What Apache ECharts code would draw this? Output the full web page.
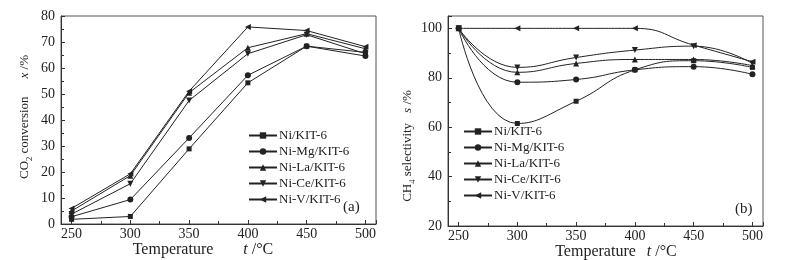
<!DOCTYPE html>
<html>
<head>
<meta charset="utf-8">
<script src="https://cdn.jsdelivr.net/npm/echarts@6/dist/echarts.min.js"></script>
<style>
  html, body { margin: 0; padding: 0; background: #fff; }
  #chart { width: 791px; height: 260px; }
</style>
</head>
<body>
<div id="chart"></div>
<script>
// temperatures (°C)
const temps = [250, 300, 350, 400, 450, 500];
const seriesNames = ['Ni/KIT-6', 'Ni-Mg/KIT-6', 'Ni-La/KIT-6', 'Ni-Ce/KIT-6', 'Ni-V/KIT-6'];

// (a) CO2 conversion, %
const convNi = [1.8, 2.9, 28.9, 54.3, 68.4, 66.0];
const convMg = [2.8, 9.4, 33.1, 57.2, 68.4, 64.6];
const convLa = [5.0, 18.6, 50.5, 67.8, 73.2, 67.4];
const convCe = [3.8, 15.5, 47.5, 65.5, 72.8, 65.5];
const convV = [6.0, 19.3, 51.1, 75.8, 74.4, 68.2];

// (b) CH4 selectivity, %
const selNi = [100, 61.5, 70.5, 83.2, 86.9, 84.2];
const selMg = [100, 78.2, 79.3, 83.2, 84.5, 81.4];
const selLa = [100, 82.2, 85.8, 87.4, 87.4, 84.9];
const selCe = [100, 84.2, 88.2, 91.2, 92.8, 85.8];
const selV = [100, 100, 100, 100, 93.2, 86.5];

const symbols = ['rect', 'circle', 'triangle', 'triangle', 'triangle'];
const rotations = [0, 0, 0, 180, 90];

const FONT = 'Liberation Serif';
const INK = '#222';

const pairs = vals => temps.map((t, i) => [t, vals[i]]);

const makeSeries = (name, idx, vals, axis, smooth) => ({
  name,
  type: 'line',
  xAxisIndex: axis,
  yAxisIndex: axis,
  data: pairs(vals),
  smooth,
  symbol: symbols[idx],
  symbolRotate: rotations[idx],
  symbolSize: idx === 0 ? 5 : 6,
  lineStyle: { color: INK, width: 1 },
  itemStyle: { color: INK },
  emphasis: { disabled: true },
  animation: false
});

const xAxisBase = (gridIndex, gapBeforeVar, pad) => ({
  type: 'value',
  gridIndex,
  min: 241,
  max: 509,
  minInterval: 50,
  maxInterval: 50,
  name: '{a|Temperature}{i|t}{a| /°C}',
  nameLocation: 'middle',
  nameGap: 18,
  nameMoveOverlap: false,
  nameTextStyle: {
    fontFamily: FONT,
    fontSize: 16,
    color: INK,
    padding: pad,
    rich: {
      a: { fontFamily: FONT, fontSize: 16, color: INK },
      i: { fontFamily: FONT, fontSize: 16, fontStyle: 'italic', color: INK, padding: [0, 0, 0, gapBeforeVar] }
    }
  },
  axisLine: { show: true, onZero: false, lineStyle: { color: '#333', width: 1 } },
  axisTick: { show: true, inside: true, length: 4, lineStyle: { color: '#333' } },
  minorTick: { show: true, splitNumber: 2, length: 3, lineStyle: { color: '#333' } },
  splitLine: { show: false },
  axisLabel: {
    fontFamily: FONT,
    fontSize: 14,
    color: INK,
    margin: 3,
    formatter: v => (v % 50 === 0 ? String(v) : '')
  }
});

const yAxisBase = (gridIndex, min, max, interval, nameText, gap, gapBeforeVar, pad, showFn) => ({
  type: 'value',
  gridIndex,
  min,
  max,
  interval,
  name: nameText,
  nameLocation: 'middle',
  nameGap: gap,
  nameMoveOverlap: false,
  nameRotate: 90,
  nameTextStyle: {
    fontFamily: FONT,
    fontSize: 13,
    color: INK,
    padding: pad,
    rich: {
      a: { fontFamily: FONT, fontSize: 13, color: INK, lineHeight: 18, verticalAlign: 'middle' },
      s: { fontFamily: FONT, fontSize: 8.5, color: INK, lineHeight: 8, verticalAlign: 'bottom' },
      i: { fontFamily: FONT, fontSize: 13, fontStyle: 'italic', color: INK, lineHeight: 18, verticalAlign: 'middle', padding: [0, 0, 0, gapBeforeVar] }
    }
  },
  axisLine: { show: true, lineStyle: { color: '#333', width: 1 } },
  axisTick: { show: true, inside: true, length: 4, lineStyle: { color: '#333' } },
  minorTick: { show: true, splitNumber: 2, length: 3, lineStyle: { color: '#333' } },
  splitLine: { show: false },
  axisLabel: {
    fontFamily: FONT,
    fontSize: 14,
    color: INK,
    margin: 6,
    formatter: showFn
  }
});

const legendBase = (left, top) => ({
  orient: 'vertical',
  left,
  top,
  padding: 0,
  data: seriesNames,
  itemWidth: 28,
  itemHeight: 8,
  itemGap: 3,
  selectedMode: false,
  textStyle: { fontFamily: FONT, fontSize: 13, fontWeight: 'normal', color: INK, lineHeight: 13, padding: [0, 0, 0, -3] }
});

const gridBase = (left, height) => ({
  left,
  top: 16,
  width: 315,
  height,
  outerBoundsMode: 'none',
  containLabel: false,
  show: true,
  borderColor: '#555',
  borderWidth: 1,
  backgroundColor: 'transparent'
});

const chart = echarts.init(document.getElementById('chart'), null, { renderer: 'canvas' });

chart.setOption({
  backgroundColor: '#fff',
  animation: false,
  grid: [gridBase(61, 208), gridBase(448, 210)],
  xAxis: [
    xAxisBase(0, 30, [0, 31, 0, 0]),
    xAxisBase(1, 11, [0, 0, 0, 21])
  ],
  yAxis: [
    yAxisBase(0, 0, 80, 10, '{a|CO}{s|2}{a| conversion}{i|x}{a| /%}', 27, 18, [0, 0, 0, 6],
      v => String(v)),
    yAxisBase(1, 20, 105, 20, '{a|CH}{s|4}{a| selectivity}{i|s}{a| /%}', 31, 10, [0, 50, 0, 0],
      v => (v % 20 === 0 ? String(v) : ''))
  ],
  legend: [legendBase(248, 129), legendBase(463, 125)],
  graphic: [
    { type: 'text', left: 343, top: 200, style: { text: '(a)', font: '15px "Liberation Serif"', fill: INK } },
    { type: 'text', left: 735, top: 202, style: { text: '(b)', font: '15px "Liberation Serif"', fill: INK } }
  ],
  series: [
    makeSeries(seriesNames[0], 0, convNi, 0, false),
    makeSeries(seriesNames[1], 1, convMg, 0, false),
    makeSeries(seriesNames[2], 2, convLa, 0, false),
    makeSeries(seriesNames[3], 3, convCe, 0, false),
    makeSeries(seriesNames[4], 4, convV, 0, false),
    makeSeries(seriesNames[0], 0, selNi, 1, true),
    makeSeries(seriesNames[1], 1, selMg, 1, true),
    makeSeries(seriesNames[2], 2, selLa, 1, true),
    makeSeries(seriesNames[3], 3, selCe, 1, true),
    makeSeries(seriesNames[4], 4, selV, 1, true)
  ]
});
</script>
</body>
</html>
